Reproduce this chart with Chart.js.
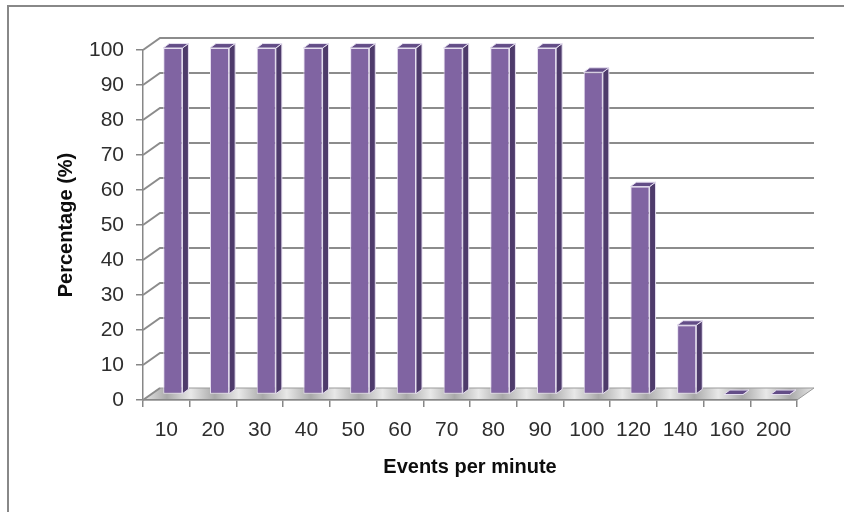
<!DOCTYPE html>
<html>
<head>
<meta charset="utf-8">
<script src="https://cdn.jsdelivr.net/npm/chart.js@4/dist/chart.umd.min.js"></script>
<style>
  html, body { margin: 0; padding: 0; background: #fff; }
  canvas { display: block; }
</style>
</head>
<body>
<canvas id="chart" width="844" height="512"></canvas>
<script>
// Share of events handled at each event rate
const categories = ['10', '20', '30', '40', '50', '60', '70', '80', '90', '100', '120', '140', '160', '200'];
const percentages = [100, 100, 100, 100, 100, 100, 100, 100, 100, 93, 60, 20, 0, 0];
const yMin = 0;
const yMax = 100;
const yStep = 10;
const xTitle = 'Events per minute';
const yTitle = 'Percentage (%)';

// Pseudo-3D look: depth of the floor / back wall and of each column
const WALL = { dx: 17, dy: -12 };
const BAR = { dx: 6, dy: -4.5, shiftX: 6.5, shiftY: -5.5, squeeze: 0.99 };
const COLORS = {
  front: '#8064a2',
  side: '#4e3b6b',
  top: '#634d87',
  edge: '#e6dff0',
  grid: '#8c8c8c',
  axis: '#878787',
  frame: '#888888',
  text: '#2e2e2e',
  title: '#0d0d0d'
};
const FONT = "'Liberation Sans', Arial, sans-serif";

const scene3d = {
  id: 'scene3d',
  beforeDraw(chart) {
    const { ctx, chartArea: a, scales: { y } } = chart;
    ctx.save();
    ctx.fillStyle = '#ffffff';
    ctx.fillRect(0, 0, chart.width, chart.height);
    // chart frame (right and bottom sides run off the canvas)
    ctx.strokeStyle = COLORS.frame;
    ctx.lineWidth = 2;
    ctx.strokeRect(8, 6, chart.width + 40, chart.height + 40);

    // silver floor
    const y0 = y.getPixelForValue(0);
    const g = ctx.createLinearGradient(a.left, y0, a.right + WALL.dx, y0 + WALL.dy);
    const n = 28;
    for (let i = 0; i <= n; i++) {
      g.addColorStop(i / n, i % 2 ? '#a9a9a9' : '#e8e8e8');
    }
    ctx.fillStyle = g;
    ctx.beginPath();
    ctx.moveTo(a.left, y0);
    ctx.lineTo(a.left + WALL.dx, y0 + WALL.dy);
    ctx.lineTo(a.right + WALL.dx, y0 + WALL.dy);
    ctx.lineTo(a.right, y0);
    ctx.closePath();
    ctx.fill();
    ctx.strokeStyle = '#9a9a9a';
    ctx.lineWidth = 1;
    ctx.stroke();
    ctx.restore();
  },
  beforeDatasetsDraw(chart) {
    // gridlines on the back wall, joined to the front axis by short diagonals
    const { ctx, chartArea: a, scales: { y } } = chart;
    ctx.save();
    ctx.strokeStyle = COLORS.grid;
    ctx.lineWidth = 2;
    y.ticks.forEach(t => {
      const py = y.getPixelForValue(t.value);
      ctx.beginPath();
      ctx.moveTo(a.left, py);
      ctx.lineTo(a.left + WALL.dx, py + WALL.dy);
      if (t.value !== 0) ctx.lineTo(a.right + WALL.dx, py + WALL.dy);
      ctx.stroke();
    });
    ctx.restore();
  },
  beforeDatasetDraw(chart) {
    const { ctx, scales: { y } } = chart;
    const base = y.getPixelForValue(0);
    ctx.save();
    // columns stand in the middle of the floor depth
    ctx.translate(BAR.shiftX, base + BAR.shiftY);
    ctx.scale(1, BAR.squeeze);
    ctx.translate(0, -base);
  },
  afterDatasetDraw(chart, args) {
    const { ctx } = chart;
    const meta = args.meta;
    ctx.lineWidth = 1;
    ctx.strokeStyle = COLORS.edge;
    ctx.lineJoin = 'round';
    meta.data.forEach(bar => {
      const { x, y, base, width } = bar.getProps(['x', 'y', 'base', 'width'], true);
      const l = x - width / 2;
      const r = x + width / 2;
      // side face
      ctx.beginPath();
      ctx.moveTo(r, y);
      ctx.lineTo(r + BAR.dx, y + BAR.dy);
      ctx.lineTo(r + BAR.dx, base + BAR.dy);
      ctx.lineTo(r, base);
      ctx.closePath();
      ctx.fillStyle = COLORS.side;
      ctx.fill();
      ctx.stroke();
      // top face
      ctx.beginPath();
      ctx.moveTo(l, y);
      ctx.lineTo(l + BAR.dx, y + BAR.dy);
      ctx.lineTo(r + BAR.dx, y + BAR.dy);
      ctx.lineTo(r, y);
      ctx.closePath();
      ctx.fillStyle = COLORS.top;
      ctx.fill();
      ctx.stroke();
    });
    ctx.restore();
  }
};

new Chart(document.getElementById('chart'), {
  type: 'bar',
  data: {
    labels: categories,
    datasets: [{
      data: percentages,
      backgroundColor: COLORS.front,
      borderColor: COLORS.edge,
      borderWidth: 1,
      borderSkipped: false,
      categoryPercentage: 1,
      barPercentage: 0.41,
      clip: false
    }]
  },
  options: {
    responsive: false,
    animation: false,
    devicePixelRatio: 1,
    layout: { padding: { left: 54, top: 50, right: 47, bottom: 33 } },
    plugins: {
      legend: { display: false },
      tooltip: { enabled: false }
    },
    scales: {
      x: {
        afterFit(scale) { scale.height = 79; },
        grid: {
          offset: true,
          drawOnChartArea: false,
          drawTicks: true,
          tickLength: 7,
          color: COLORS.axis,
          lineWidth: 1.5
        },
        border: { display: true, color: COLORS.axis, width: 1.5 },
        ticks: {
          color: COLORS.text,
          font: { family: FONT, size: 21 },
          padding: 11,
          autoSkip: false,
          maxRotation: 0,
          minRotation: 0
        },
        title: {
          display: true,
          text: xTitle,
          color: COLORS.title,
          font: { family: FONT, size: 20, weight: 'bold' },
          padding: { top: 0, bottom: 0 }
        }
      },
      y: {
        min: yMin,
        max: yMax,
        afterFit(scale) { scale.width = 89; },
        grid: {
          drawOnChartArea: false,
          drawTicks: true,
          tickLength: 7,
          color: COLORS.axis,
          lineWidth: 1.5
        },
        border: { display: true, color: COLORS.axis, width: 1.5 },
        ticks: {
          stepSize: yStep,
          color: COLORS.text,
          font: { family: FONT, size: 21 },
          padding: 12
        },
        title: {
          display: true,
          text: yTitle,
          color: COLORS.title,
          font: { family: FONT, size: 20, weight: 'bold' },
          padding: { top: 0, bottom: 0 }
        }
      }
    }
  },
  plugins: [scene3d]
});
</script>
</body>
</html>
